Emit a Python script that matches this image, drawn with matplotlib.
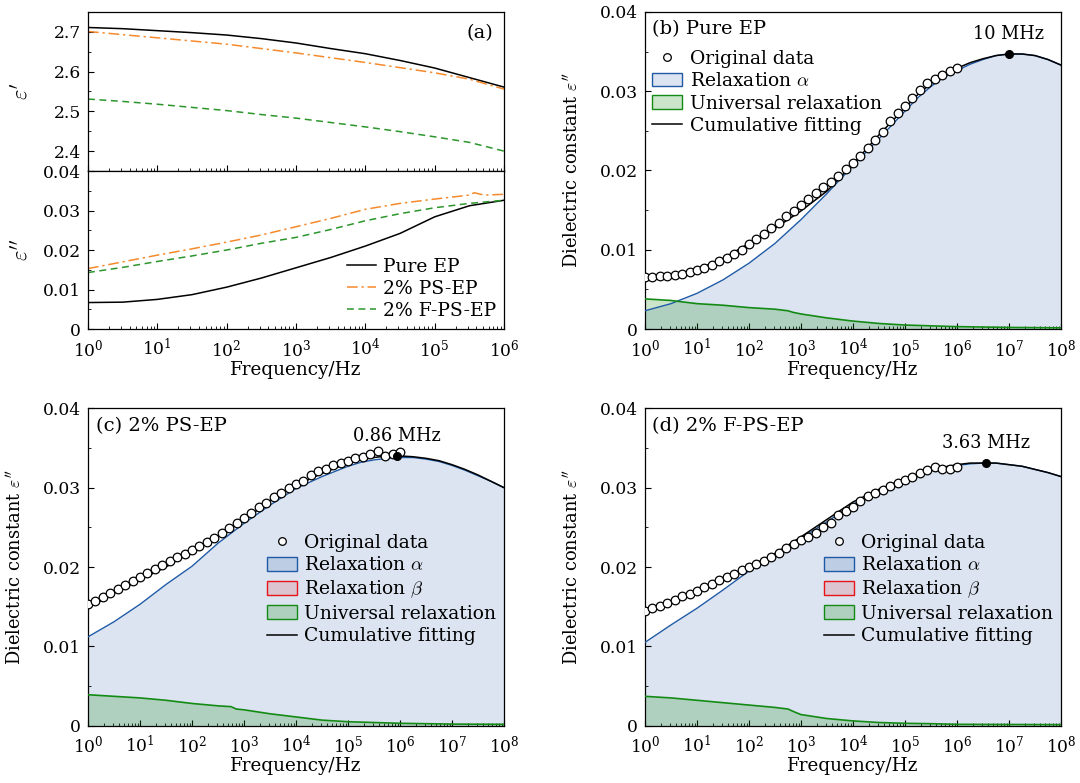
import matplotlib

matplotlib.use("Agg")
import matplotlib.pyplot as plt
import numpy as np
from matplotlib.lines import Line2D
from matplotlib.patches import Patch
from matplotlib.ticker import FuncFormatter, LogLocator, MultipleLocator, NullFormatter

# ---- panel (a): permittivity of the three samples, 1 Hz .. 1 MHz ----
a_exp = [0, 0.5, 1, 1.5, 2, 2.5, 3, 3.5, 4, 4.5, 5, 5.5, 6]
a_real_pure = [2.711, 2.708, 2.703, 2.698, 2.692, 2.683, 2.672, 2.658, 2.645, 2.628, 2.609, 2.585, 2.561]
a_real_ps = [2.701, 2.693, 2.685, 2.677, 2.669, 2.658, 2.647, 2.635, 2.623, 2.610, 2.597, 2.581, 2.556]
a_real_fps = [2.531, 2.525, 2.518, 2.510, 2.502, 2.492, 2.483, 2.472, 2.461, 2.449, 2.436, 2.422, 2.400]
a_imag_pure = [0.0067, 0.0068, 0.0075, 0.0087, 0.0106, 0.0129, 0.0155, 0.0181, 0.0210, 0.0242, 0.0284, 0.0312, 0.0326]
a_imag_fps = [0.0143, 0.0156, 0.0171, 0.0185, 0.0200, 0.0217, 0.0232, 0.0252, 0.0274, 0.0292, 0.0307, 0.0318, 0.0326]
a_ps_exp = [0, 0.5, 1, 1.5, 2, 2.5, 3, 3.5, 4, 4.5, 5, 5.5, 5.57, 5.71, 6]
a_imag_ps = [0.0153, 0.0170, 0.0187, 0.0203, 0.0220, 0.0238, 0.0259, 0.0280, 0.0303, 0.0318, 0.0329,
             0.0339, 0.0345, 0.0339, 0.0341]
a_labels = ["Pure EP", "2% PS-EP", "2% F-PS-EP"]

# ---- panels (b)-(d): measured loss, 7 points per decade from 1 Hz to 1 MHz ----
data_freq = np.logspace(0, 6, 43)
b_data = [0.0066, 0.0066, 0.0067, 0.0067, 0.0068, 0.0070, 0.0072, 0.0074, 0.0077, 0.0081, 0.0086,
          0.0090, 0.0095, 0.0100, 0.0107, 0.0113, 0.0120, 0.0128, 0.0134, 0.0142, 0.0149, 0.0157,
          0.0164, 0.0171, 0.0179, 0.0186, 0.0193, 0.0202, 0.0209, 0.0218, 0.0229, 0.0238, 0.0249,
          0.0262, 0.0272, 0.0282, 0.0292, 0.0301, 0.0310, 0.0315, 0.0321, 0.0326, 0.0329]
c_data = [0.0153, 0.0157, 0.0162, 0.0167, 0.0172, 0.0177, 0.0182, 0.0187, 0.0192, 0.0197, 0.0202,
          0.0207, 0.0212, 0.0216, 0.0222, 0.0226, 0.0231, 0.0237, 0.0243, 0.0249, 0.0255, 0.0262,
          0.0268, 0.0276, 0.0281, 0.0288, 0.0293, 0.0299, 0.0304, 0.0309, 0.0316, 0.0321, 0.0324,
          0.0328, 0.0331, 0.0334, 0.0337, 0.0339, 0.0342, 0.0346, 0.0340, 0.0342, 0.0345]
d_data = [0.0144, 0.0148, 0.0151, 0.0155, 0.0159, 0.0163, 0.0166, 0.0170, 0.0175, 0.0179, 0.0183,
          0.0187, 0.0191, 0.0196, 0.0200, 0.0204, 0.0208, 0.0213, 0.0218, 0.0224, 0.0229, 0.0234,
          0.0238, 0.0243, 0.0251, 0.0256, 0.0265, 0.0271, 0.0276, 0.0283, 0.0289, 0.0293, 0.0297,
          0.0302, 0.0306, 0.0310, 0.0314, 0.0318, 0.0322, 0.0326, 0.0324, 0.0324, 0.0326]

# fitted components: half decades up to 100 kHz, quarter decades above
fit_exp = [0, 0.5, 1, 1.5, 2, 2.5, 3, 3.5, 4, 4.5, 5, 5.25, 5.5, 5.75, 6, 6.25, 6.5, 6.75, 7,
           7.25, 7.5, 7.75, 8]
b_fit = [0.0061, 0.0066, 0.0075, 0.0089, 0.0108, 0.0127, 0.0149, 0.0174, 0.0208, 0.0245, 0.0279,
         0.0296, 0.0310, 0.0321, 0.0329, 0.0336, 0.0341, 0.0345, 0.0347, 0.0347, 0.0345, 0.0340, 0.0333]
b_alpha = [0.0023, 0.0032, 0.0045, 0.0062, 0.0083, 0.0108, 0.0138, 0.0171, 0.0206, 0.0240, 0.0275,
           0.0292, 0.0306, 0.0318, 0.0326, 0.0334, 0.0340, 0.0345, 0.0347, 0.0347, 0.0345, 0.0340, 0.0333]
c_fit = [0.0148, 0.0167, 0.0184, 0.0200, 0.0220, 0.0239, 0.0259, 0.0284, 0.0303, 0.0318, 0.0331,
         0.0335, 0.0338, 0.0340, 0.0340, 0.0339, 0.0337, 0.0334, 0.0329, 0.0323, 0.0316, 0.0308, 0.0300]
c_alpha = [0.0112, 0.0131, 0.0153, 0.0178, 0.0201, 0.0230, 0.0255, 0.0278, 0.0299, 0.0314, 0.0327,
           0.0332, 0.0335, 0.0337, 0.0338, 0.0338, 0.0336, 0.0333, 0.0328, 0.0322, 0.0315, 0.0308, 0.0300]
d_fit = [0.0142, 0.0155, 0.0169, 0.0184, 0.0200, 0.0217, 0.0238, 0.0260, 0.0282, 0.0298, 0.0311,
         0.0317, 0.0322, 0.0326, 0.0329, 0.0331, 0.0331, 0.0331, 0.0329, 0.0327, 0.0323, 0.0319, 0.0314]
d_alpha = [0.0105, 0.0127, 0.0148, 0.0171, 0.0195, 0.0215, 0.0236, 0.0257, 0.0279, 0.0296, 0.0309,
           0.0315, 0.0321, 0.0325, 0.0328, 0.0330, 0.0331, 0.0331, 0.0329, 0.0327, 0.0323, 0.0319, 0.0314]

univ_exp = [0, 0.5, 1, 1.5, 2, 2.5, 2.75, 2.85, 3, 3.5, 4, 4.5, 5, 5.5, 6, 7, 8]
b_univ = [0.0038, 0.0036, 0.0032, 0.0030, 0.0027, 0.0025, 0.0023, 0.0021, 0.0019, 0.0014, 0.0010,
          0.0007, 0.0005, 0.0004, 0.0003, 0.0002, 0.00015]
c_univ = [0.0039, 0.0037, 0.0035, 0.0032, 0.0028, 0.0025, 0.0024, 0.0021, 0.0020, 0.0015, 0.0011,
          0.0007, 0.0005, 0.0004, 0.0003, 0.0002, 0.00017]
d_univ = [0.0037, 0.0035, 0.0032, 0.0029, 0.0026, 0.0023, 0.0021, 0.0018, 0.0014, 0.0009, 0.0006,
          0.0004, 0.0003, 0.00025, 0.00017, 0.00015, 0.00013]

peak_freq = {"b": 1.0e7, "c": 0.86e6, "d": 3.63e6}
peak_value = {"b": 0.0347, "c": 0.0340, "d": 0.0331}
peak_text = {"b": "10 MHz", "c": "0.86 MHz", "d": "3.63 MHz"}
panel_titles = {"b": "(b) Pure EP", "c": "(c) 2% PS-EP", "d": "(d) 2% F-PS-EP"}

BLUE = "#1f5aa6"
GREEN = "#138a13"
RED = "#e8141a"
ORANGE = "#f58a2c"
DGREEN = "#2b962b"

plt.rcParams.update(
    {
        "font.family": "DejaVu Serif",
        "mathtext.fontset": "cm",
        "axes.formatter.use_mathtext": True,
        "font.size": 12.3,
        "xtick.direction": "in",
        "ytick.direction": "in",
        "xtick.major.size": 4,
        "ytick.major.size": 4,
        "xtick.minor.size": 2.2,
        "ytick.minor.size": 2.2,
        "xtick.major.pad": 6.5,
        "ytick.major.pad": 5,
        "axes.linewidth": 0.9,
        "axes.labelsize": 13.2,
        "legend.frameon": False,
        "legend.fontsize": 13.5,
    }
)


def loss_fmt(value, _):
    return "0" if abs(value) < 1e-9 else f"{value:.2f}"


def log_axis(axis, top):
    axis.set_xscale("log")
    axis.set_xlim(1, 10.0**top)
    axis.xaxis.set_major_locator(LogLocator(base=10, numticks=20))
    axis.xaxis.set_minor_locator(LogLocator(base=10, subs=np.arange(2, 10), numticks=100))
    axis.xaxis.set_minor_formatter(NullFormatter())


def loss_axis(axis):
    axis.set_ylim(0, 0.04)
    axis.yaxis.set_major_locator(MultipleLocator(0.01))
    axis.yaxis.set_minor_locator(MultipleLocator(0.005))
    axis.yaxis.set_major_formatter(FuncFormatter(loss_fmt))


figure = plt.figure(figsize=(10.8, 7.83), dpi=100)
left_x, right_x, width = 0.0815, 0.5972, 0.3852
top_ax = figure.add_axes([left_x, 0.7816, width, 0.2031])
bot_ax = figure.add_axes([left_x, 0.5798, width, 0.2018])

# panel (a)
a_freq = 10.0 ** np.array(a_exp)
top_ax.plot(a_freq, a_real_pure, color="black", lw=1.1)
top_ax.plot(a_freq, a_real_ps, color=ORANGE, lw=1.1, dashes=[7, 2.5, 1.5, 2.5])
top_ax.plot(a_freq, a_real_fps, color=DGREEN, lw=1.1, dashes=[4.5, 3])
log_axis(top_ax, 6)
top_ax.set_ylim(2.35, 2.75)
top_ax.yaxis.set_major_locator(MultipleLocator(0.1))
top_ax.yaxis.set_minor_locator(MultipleLocator(0.05))
top_ax.yaxis.set_major_formatter(FuncFormatter(lambda v, _: f"{v:.1f}"))
top_ax.tick_params(axis="x", which="both", labelbottom=False)
top_ax.set_ylabel(r"$\varepsilon'$", fontsize=16)
top_ax.text(0.975, 0.87, "(a)", transform=top_ax.transAxes, ha="right", va="center", fontsize=14)

bot_ax.plot(a_freq, a_imag_pure, color="black", lw=1.1, label=a_labels[0])
bot_ax.plot(10.0 ** np.array(a_ps_exp), a_imag_ps, color=ORANGE, lw=1.1,
            dashes=[7, 2.5, 1.5, 2.5], label=a_labels[1])
bot_ax.plot(a_freq, a_imag_fps, color=DGREEN, lw=1.1, dashes=[4.5, 3], label=a_labels[2])
log_axis(bot_ax, 6)
loss_axis(bot_ax)
bot_ax.set_ylabel(r"$\varepsilon''$", fontsize=16)
bot_ax.set_xlabel("Frequency/Hz", labelpad=0.5)
bot_ax.legend(loc="lower right", bbox_to_anchor=(1.0, 0.01), handlelength=1.55,
              handletextpad=0.4, labelspacing=0.22, borderaxespad=0.0)
bot_ax.yaxis.set_label_coords(-0.133, 0.5)
top_ax.yaxis.set_label_coords(-0.133, 0.5)

panels = {
    "b": ([right_x, 0.5798, width, 0.4049], b_data, b_fit, b_alpha, b_univ),
    "c": ([left_x, 0.0732, width, 0.4053], c_data, c_fit, c_alpha, c_univ),
    "d": ([right_x, 0.0732, width, 0.4053], d_data, d_fit, d_alpha, d_univ),
}
fit_freq = 10.0 ** np.array(fit_exp)
univ_freq = 10.0 ** np.array(univ_exp)

for key, (rect, data, fit, alpha_part, univ) in panels.items():
    axis = figure.add_axes(rect)
    axis.fill_between(fit_freq, 0, alpha_part, color=BLUE, alpha=0.16, lw=0, zorder=1)
    axis.fill_between(univ_freq, 0, univ, color=GREEN, alpha=0.22, lw=0, zorder=2)
    axis.plot(fit_freq, alpha_part, color=BLUE, lw=1.0, zorder=3)
    axis.plot(univ_freq, univ, color=GREEN, lw=1.2, zorder=3)
    axis.plot(fit_freq, fit, color="black", lw=1.1, zorder=4)
    axis.plot(data_freq, data, "o", ms=6.2, mfc="white", mec="black", mew=0.9, zorder=5)
    axis.plot([peak_freq[key]], [peak_value[key]], "o", ms=5.5, color="black", zorder=6)
    axis.text(peak_freq[key], peak_value[key] + 0.0014, peak_text[key], ha="center",
              va="bottom", fontsize=12.8)
    axis.text(0.018, 0.945, panel_titles[key], transform=axis.transAxes, ha="left",
              va="center", fontsize=14)
    log_axis(axis, 8)
    loss_axis(axis)
    axis.set_xlabel("Frequency/Hz", labelpad=0.5)
    axis.set_ylabel(r"Dielectric constant $\varepsilon''$", fontsize=12.9)
    axis.yaxis.set_label_coords(-0.153, 0.5)

    handles = [
        Line2D([], [], ls="none", marker="o", ms=5.5, mfc="white", mec="black", mew=0.9),
        Patch(facecolor=(0.122, 0.353, 0.651, 0.16), edgecolor=BLUE, lw=1.0),
    ]
    labels = ["Original data", r"Relaxation $\alpha$"]
    if key != "b":
        handles.append(Patch(facecolor=(0.91, 0.08, 0.10, 0.15), edgecolor=RED, lw=1.0))
        labels.append(r"Relaxation $\beta$")
    handles += [
        Patch(facecolor=(0.075, 0.54, 0.075, 0.22), edgecolor=GREEN, lw=1.0),
        Line2D([], [], color="black", lw=1.1),
    ]
    labels += ["Universal relaxation", "Cumulative fitting"]
    anchor = (0.0, 0.905) if key == "b" else (0.412, 0.628)
    axis.legend(handles, labels, loc="upper left", bbox_to_anchor=anchor,
                handlelength=1.6, handleheight=0.75, handletextpad=0.4, labelspacing=0.24,
                borderaxespad=0.0)

figure.savefig("out.png", dpi=100)
